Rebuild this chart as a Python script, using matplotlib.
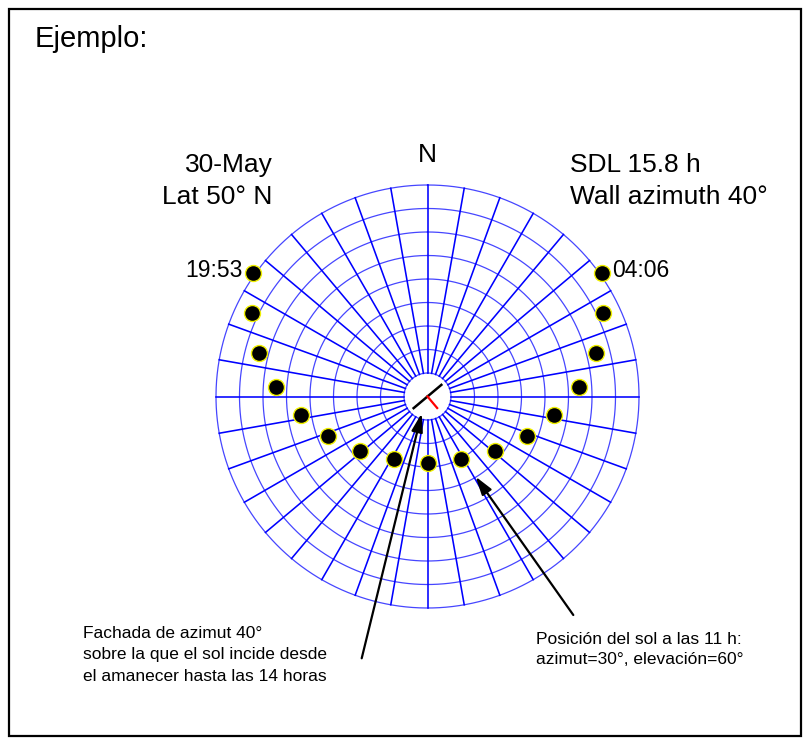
import numpy as np
import matplotlib
matplotlib.use("Agg")
import matplotlib.pyplot as plt
from matplotlib.patches import Rectangle

plt.rcParams['font.family'] = ['Liberation Sans', 'DejaVu Sans']

# sun positions: compass azimuth (deg), elevation (deg)
sun_az = [54.7, 64.5, 75.6, 86.3, 98.3, 111.6, 128.8, 152.1, 180.0,
          207.9, 231.2, 248.4, 261.7, 273.7, 284.4, 295.5, 305.3]
sun_el = [-0.8, 7.1, 16.0, 25.4, 35.5, 44.6, 53.2, 59.8, 61.6,
          59.8, 53.2, 44.6, 35.5, 25.4, 16.0, 7.1, -0.8]
sunrise, sunset = "04:06", "19:53"

date_lat = ["30-May", "Lat 50° N"]
info = ["SDL 15.8 h", "Wall azimuth 40°"]
wall_azimuth = 40          # measured from south, towards east
elev_rings = list(range(0, 90, 10))     # 0..80, 80 is the central hole
az_lines = list(range(0, 360, 10))

note_wall = ["Fachada de azimut 40°",
             "sobre la que el sol incide desde",
             "el amanecer hasta las 14 horas"]
note_sun = ["Posición del sol a las 11 h:",
            "azimut=30°, elevación=60°"]

W, H = 810, 744
fig = plt.figure(figsize=(W / 100, H / 100), dpi=100)

# pixel-coordinate layer for frame, texts and arrows
ax = fig.add_axes([0, 0, 1, 1])
ax.set_xlim(0, W)
ax.set_ylim(H, 0)
ax.axis('off')
ax.set_zorder(3)

# polar sun-path chart, zenith in the middle, horizon on the rim
cx, cy, R = 427.5, 396.5, 211.5
axp = fig.add_axes([(cx - R) / W, 1 - (cy + R) / H, 2 * R / W, 2 * R / H],
                   projection='polar')
axp.set_theta_zero_location('N')
axp.set_theta_direction(-1)
axp.set_ylim(0, 90)
axp.axis('off')
axp.set_zorder(1)

def zen(e):
    return 90 - np.asarray(e, dtype=float)

th = np.linspace(0, 2 * np.pi, 400)
for e in elev_rings:
    axp.plot(th, np.full_like(th, zen(e)), color='#4646ff', lw=0.9,
             clip_on=False)
inner = zen(max(elev_rings))
for a in az_lines:
    t = np.deg2rad(a)
    axp.plot([t, t], [inner, 90], color='#0000ff', lw=1.15, clip_on=False)

# wall (black) and its normal (red)
normal = 180 - wall_azimuth
for a in (normal - 90, normal + 90):
    axp.plot([np.deg2rad(a)] * 2, [0, 7.7], color='black', lw=1.8)
axp.plot([np.deg2rad(normal)] * 2, [0, 6.4], color='red', lw=1.6)

# sun dots
axp.plot(np.deg2rad(sun_az), zen(sun_el), 'o', ms=11.5, mfc='black',
         mec='#f0f000', mew=1.0, clip_on=False, zorder=5)
axp.annotate(sunrise, (np.deg2rad(sun_az[0]), zen(sun_el[0])),
             xytext=(7.6, -2.9), textcoords='offset points',
             ha='left', va='baseline', fontsize=16.5, annotation_clip=False)
axp.annotate(sunset, (np.deg2rad(sun_az[-1]), zen(sun_el[-1])),
             xytext=(-7.6, -2.9), textcoords='offset points',
             ha='right', va='baseline', fontsize=16.5, annotation_clip=False)

# frame and labels
ax.add_patch(Rectangle((9, 9), 792, 727, fill=False, lw=1.6, color='black'))
ax.text(35, 47, "Ejemplo:", fontsize=21, ha='left', va='baseline')
ax.text(cx, 162, "N", fontsize=19, ha='center', va='baseline')
for i, s in enumerate(date_lat):
    ax.text(272.7, 172 + 32 * i, s, fontsize=19, ha='right', va='baseline')
for i, s in enumerate(info):
    ax.text(570, 172 + 32 * i, s, fontsize=19, ha='left', va='baseline')

for i, s in enumerate(note_wall):
    ax.text(83, 638 + 21.5 * i, s, fontsize=12.5, ha='left', va='baseline')
for i, s in enumerate(note_sun):
    ax.text(536, 644.5 + 20 * i, s, fontsize=12.5, ha='left', va='baseline')

arrow = dict(arrowstyle='-|>,head_length=0.55,head_width=0.17',
             mutation_scale=20, lw=1.6, color='black', shrinkA=0, shrinkB=0)
ax.annotate('', xy=(np.deg2rad(199), 7.6), xycoords=axp.transData,
            xytext=(361.7, 658.3), textcoords='data', arrowprops=arrow)
ax.annotate('', xy=(np.deg2rad(149), 39.8), xycoords=axp.transData,
            xytext=(573.3, 615), textcoords='data', arrowprops=arrow)

fig.savefig('out.png', dpi=100, facecolor='white')
